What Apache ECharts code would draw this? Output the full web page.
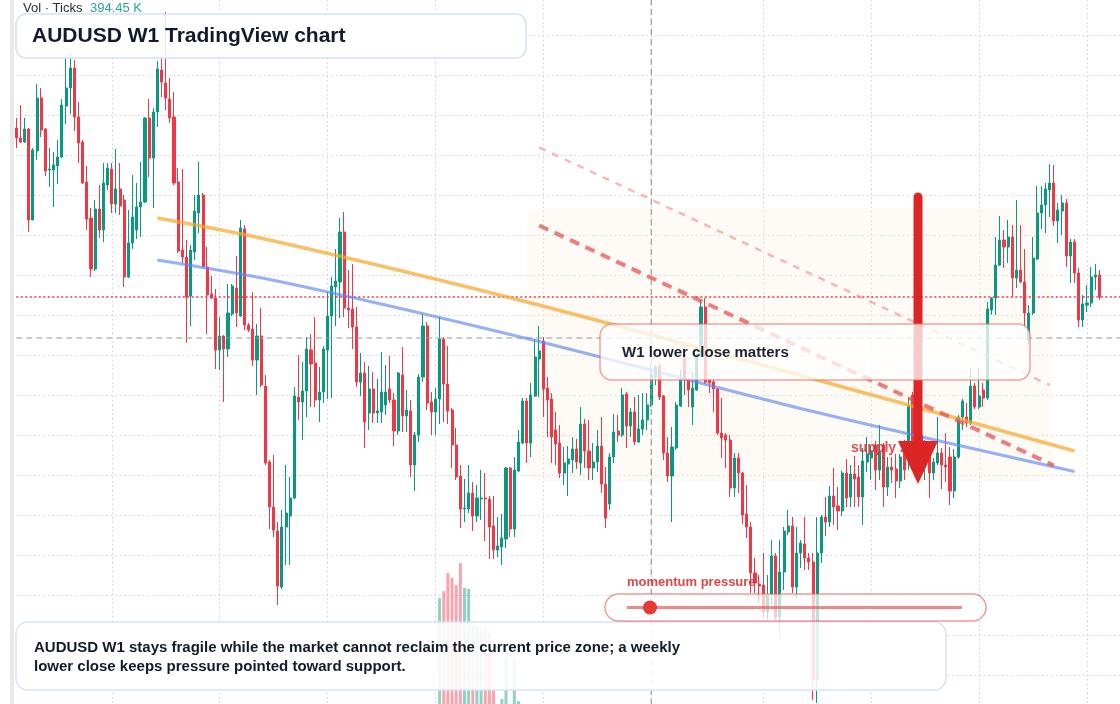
<!DOCTYPE html>
<html>
<head>
<meta charset="utf-8">
<title>AUDUSD W1</title>
<script src="https://cdn.jsdelivr.net/npm/echarts@6/dist/echarts.min.js"></script>
<style>
  html, body { margin: 0; padding: 0; background: #fff; width: 1120px; height: 704px; overflow: hidden; position: relative; }
  /* plot runs a few px past the window so the weekly grid lands where TradingView draws it */
  #chart { position: absolute; left: 0; top: -5px; width: 1125px; height: 720px; }
</style>
</head>
<body>
<div id="chart"></div>
<script>
// weekly bars, oldest first
const open = [
  0.7894,0.7874,0.7866,0.7892,0.7710,0.7848,0.7954,0.7892,0.7810,0.7810,
  0.7818,0.7836,0.7938,0.7974,0.8014,0.7916,0.7866,0.7786,0.7714,0.7612,
  0.7732,0.7690,0.7780,0.7812,0.7742,0.7772,0.7750,0.7596,0.7664,0.7690,
  0.7736,0.7746,0.7914,0.7834,0.7926,0.8010,0.7984,0.7952,0.7916,0.7786,
  0.7650,0.7636,0.7558,0.7646,0.7724,0.7760,0.7616,0.7562,0.7554,0.7450,
  0.7478,0.7452,0.7522,0.7574,0.7518,0.7692,0.7500,0.7492,0.7430,0.7478,
  0.7378,0.7226,0.7136,0.7088,0.6976,0.7096,0.7118,0.7154,0.7356,0.7346,
  0.7368,0.7450,0.7424,0.7350,0.7366,0.7450,0.7518,0.7576,0.7586,0.7686,
  0.7534,0.7532,0.7496,0.7386,0.7404,0.7324,0.7372,0.7324,0.7326,0.7340,
  0.7372,0.7350,0.7288,0.7400,0.7318,0.7328,0.7220,0.7280,0.7396,0.7498,
  0.7346,0.7326,0.7352,0.7472,0.7382,0.7330,0.7260,0.7198,0.7132,0.7132,
  0.7164,0.7118,0.7152,0.7154,0.7152,0.7098,0.7050,0.7056,0.7072,0.7214,
  0.7092,0.7208,0.7264,0.7348,0.7264,0.7358,0.7432,0.7468,0.7374,0.7352,
  0.7290,0.7264,0.7204,0.7222,0.7230,0.7252,0.7224,0.7302,0.7248,0.7214,
  0.7226,0.7258,0.7182,0.7142,0.7236,0.7288,0.7280,0.7362,0.7298,0.7326,
  0.7266,0.7292,0.7310,0.7340,0.7396,0.7418,0.7358,0.7244,0.7198,0.7254,
  0.7338,0.7440,0.7390,0.7336,0.7370,0.7438,0.7536,0.7390,0.7386,0.7372,
  0.7284,0.7280,0.7270,0.7174,0.7234,0.7204,0.7122,0.7096,0.7004,0.6982,
  0.6980,0.6926,0.6960,0.7038,0.6916,0.7006,0.7086,0.7098,0.6976,0.7044,
  0.7062,0.7034,0.7026,0.6790,0.7044,0.7116,0.7106,0.7158,0.7138,0.7128,
  0.7204,0.7156,0.7202,0.7196,0.7156,0.7226,0.7234,0.7260,0.7210,0.7260,
  0.7176,0.7216,0.7212,0.7188,0.7250,0.7230,0.7360,0.7250,0.7280,0.7220,
  0.7236,0.7204,0.7224,0.7244,0.7220,0.7236,0.7168,0.7236,0.7316,0.7316,
  0.7304,0.7378,0.7336,0.7370,0.7354,0.7530,0.7554,0.7620,0.7670,0.7656,
  0.7676,0.7594,0.7610,0.7586,0.7470,0.7524,0.7632,0.7724,0.7740,0.7770,
  0.7784,0.7708,0.7728,0.7744,0.7638,0.7666,0.7604,0.7510,0.7540,0.7544,
  0.7596,0.7600
];
const close = [
  0.7874,0.7866,0.7892,0.7710,0.7850,0.7954,0.7890,0.7808,0.7812,0.7820,
  0.7836,0.7940,0.7974,0.8014,0.7916,0.7864,0.7784,0.7712,0.7612,0.7732,
  0.7690,0.7784,0.7814,0.7742,0.7772,0.7738,0.7596,0.7664,0.7716,0.7736,
  0.7746,0.7914,0.7834,0.7926,0.8012,0.7986,0.7954,0.7914,0.7784,0.7648,
  0.7636,0.7556,0.7650,0.7728,0.7760,0.7616,0.7560,0.7554,0.7450,0.7478,
  0.7452,0.7524,0.7578,0.7524,0.7694,0.7500,0.7490,0.7430,0.7478,0.7380,
  0.7224,0.7136,0.7090,0.6978,0.7096,0.7124,0.7154,0.7358,0.7346,0.7368,
  0.7452,0.7422,0.7350,0.7366,0.7452,0.7518,0.7578,0.7588,0.7686,0.7534,
  0.7530,0.7496,0.7386,0.7404,0.7306,0.7372,0.7324,0.7328,0.7366,0.7366,
  0.7350,0.7288,0.7404,0.7318,0.7330,0.7220,0.7280,0.7396,0.7498,0.7344,
  0.7326,0.7352,0.7472,0.7382,0.7328,0.7260,0.7196,0.7132,0.7134,0.7164,
  0.7118,0.7154,0.7154,0.7152,0.7096,0.7050,0.7058,0.7074,0.7214,0.7092,
  0.7210,0.7266,0.7348,0.7264,0.7360,0.7436,0.7448,0.7372,0.7350,0.7276,
  0.7262,0.7204,0.7224,0.7232,0.7252,0.7226,0.7302,0.7248,0.7214,0.7226,
  0.7258,0.7182,0.7114,0.7236,0.7286,0.7280,0.7360,0.7298,0.7326,0.7266,
  0.7292,0.7310,0.7340,0.7400,0.7416,0.7356,0.7244,0.7198,0.7256,0.7340,
  0.7390,0.7390,0.7370,0.7374,0.7438,0.7536,0.7386,0.7384,0.7372,0.7284,
  0.7274,0.7270,0.7174,0.7234,0.7204,0.7120,0.7096,0.7004,0.6984,0.6978,
  0.6926,0.6960,0.7038,0.6916,0.7006,0.7088,0.7098,0.6976,0.7044,0.7064,
  0.7034,0.7026,0.6790,0.7044,0.7116,0.7106,0.7158,0.7136,0.7128,0.7204,
  0.7154,0.7202,0.7192,0.7156,0.7228,0.7242,0.7246,0.7210,0.7246,0.7176,
  0.7216,0.7210,0.7188,0.7236,0.7210,0.7338,0.7250,0.7310,0.7236,0.7260,
  0.7204,0.7226,0.7244,0.7220,0.7216,0.7168,0.7236,0.7316,0.7348,0.7304,
  0.7378,0.7336,0.7358,0.7354,0.7532,0.7554,0.7620,0.7670,0.7656,0.7676,
  0.7594,0.7610,0.7586,0.7524,0.7524,0.7634,0.7724,0.7740,0.7772,0.7784,
  0.7708,0.7730,0.7744,0.7638,0.7666,0.7604,0.7510,0.7542,0.7544,0.7596,
  0.7600,0.7556
];
const low = [
  0.7854,0.7864,0.7864,0.7686,0.7710,0.7830,0.7876,0.7798,0.7776,0.7736,
  0.7782,0.7834,0.7902,0.7922,0.7888,0.7824,0.7782,0.7690,0.7596,0.7608,
  0.7674,0.7666,0.7770,0.7724,0.7724,0.7720,0.7576,0.7594,0.7652,0.7672,
  0.7676,0.7744,0.7796,0.7734,0.7896,0.7956,0.7930,0.7904,0.7780,0.7644,
  0.7624,0.7464,0.7498,0.7630,0.7684,0.7614,0.7482,0.7552,0.7412,0.7410,
  0.7346,0.7436,0.7518,0.7496,0.7516,0.7490,0.7486,0.7418,0.7360,0.7376,
  0.7220,0.7092,0.7076,0.6940,0.6972,0.7020,0.7020,0.7152,0.7310,0.7270,
  0.7316,0.7336,0.7336,0.7306,0.7344,0.7352,0.7354,0.7498,0.7514,0.7516,
  0.7494,0.7452,0.7376,0.7358,0.7254,0.7290,0.7304,0.7304,0.7304,0.7320,
  0.7344,0.7258,0.7280,0.7286,0.7286,0.7196,0.7168,0.7266,0.7386,0.7330,
  0.7280,0.7280,0.7302,0.7306,0.7302,0.7214,0.7190,0.7094,0.7106,0.7124,
  0.7088,0.7106,0.7110,0.7068,0.7032,0.7032,0.7036,0.7020,0.7054,0.7076,
  0.7076,0.7206,0.7262,0.7224,0.7236,0.7356,0.7356,0.7316,0.7276,0.7224,
  0.7220,0.7194,0.7180,0.7158,0.7204,0.7212,0.7200,0.7214,0.7190,0.7190,
  0.7206,0.7164,0.7094,0.7130,0.7224,0.7266,0.7276,0.7254,0.7276,0.7260,
  0.7264,0.7280,0.7290,0.7336,0.7380,0.7350,0.7230,0.7186,0.7106,0.7250,
  0.7336,0.7360,0.7336,0.7300,0.7368,0.7436,0.7382,0.7364,0.7326,0.7280,
  0.7234,0.7214,0.7156,0.7156,0.7164,0.7102,0.7074,0.6964,0.6964,0.6944,
  0.6914,0.6910,0.6940,0.6910,0.6874,0.6970,0.7080,0.6964,0.6954,0.7014,
  0.7010,0.7010,0.6750,0.6744,0.7024,0.7078,0.7096,0.7100,0.7090,0.7118,
  0.7136,0.7136,0.7136,0.7136,0.7100,0.7206,0.7190,0.7170,0.7190,0.7136,
  0.7158,0.7184,0.7154,0.7174,0.7190,0.7210,0.7210,0.7220,0.7210,0.7190,
  0.7154,0.7190,0.7220,0.7172,0.7186,0.7140,0.7154,0.7232,0.7290,0.7296,
  0.7300,0.7332,0.7332,0.7336,0.7350,0.7520,0.7520,0.7618,0.7614,0.7624,
  0.7556,0.7574,0.7584,0.7496,0.7460,0.7520,0.7630,0.7692,0.7684,0.7716,
  0.7698,0.7664,0.7680,0.7616,0.7584,0.7584,0.7496,0.7496,0.7526,0.7536,
  0.7570,0.7550
];
const high = [
  0.7914,0.7940,0.7914,0.7894,0.7854,0.7982,0.7974,0.7894,0.7854,0.7846,
  0.7870,0.7952,0.8034,0.8044,0.8030,0.7946,0.7870,0.7818,0.7734,0.7750,
  0.7780,0.7824,0.7824,0.7824,0.7852,0.7824,0.7760,0.7730,0.7800,0.7784,
  0.7826,0.7916,0.7952,0.7934,0.8028,0.8034,0.8126,0.7994,0.7966,0.7814,
  0.7812,0.7670,0.7660,0.7760,0.7826,0.7764,0.7656,0.7598,0.7572,0.7516,
  0.7480,0.7582,0.7582,0.7638,0.7710,0.7700,0.7504,0.7566,0.7502,0.7534,
  0.7400,0.7230,0.7240,0.7106,0.7130,0.7220,0.7196,0.7376,0.7440,0.7426,
  0.7476,0.7482,0.7516,0.7416,0.7458,0.7566,0.7596,0.7652,0.7714,0.7726,
  0.7610,0.7622,0.7536,0.7444,0.7426,0.7418,0.7406,0.7392,0.7446,0.7420,
  0.7438,0.7364,0.7406,0.7456,0.7370,0.7350,0.7286,0.7402,0.7522,0.7506,
  0.7366,0.7374,0.7516,0.7476,0.7458,0.7334,0.7294,0.7220,0.7192,0.7220,
  0.7186,0.7180,0.7210,0.7204,0.7158,0.7158,0.7116,0.7122,0.7216,0.7216,
  0.7236,0.7290,0.7354,0.7354,0.7384,0.7472,0.7498,0.7476,0.7396,0.7364,
  0.7326,0.7300,0.7256,0.7258,0.7276,0.7272,0.7336,0.7312,0.7310,0.7264,
  0.7290,0.7316,0.7216,0.7244,0.7322,0.7320,0.7374,0.7366,0.7334,0.7356,
  0.7360,0.7364,0.7364,0.7420,0.7420,0.7424,0.7360,0.7276,0.7296,0.7346,
  0.7410,0.7444,0.7394,0.7406,0.7444,0.7550,0.7554,0.7392,0.7390,0.7374,
  0.7354,0.7284,0.7280,0.7244,0.7244,0.7206,0.7180,0.7106,0.7034,0.7000,
  0.7044,0.7000,0.7070,0.7044,0.7070,0.7096,0.7130,0.7116,0.7096,0.7070,
  0.7116,0.7044,0.7044,0.7116,0.7120,0.7156,0.7178,0.7214,0.7176,0.7208,
  0.7232,0.7220,0.7238,0.7220,0.7254,0.7276,0.7260,0.7268,0.7300,0.7264,
  0.7236,0.7236,0.7242,0.7242,0.7270,0.7356,0.7366,0.7330,0.7290,0.7270,
  0.7254,0.7234,0.7316,0.7254,0.7284,0.7256,0.7252,0.7320,0.7352,0.7344,
  0.7414,0.7384,0.7414,0.7384,0.7546,0.7556,0.7676,0.7718,0.7690,0.7710,
  0.7700,0.7750,0.7700,0.7652,0.7540,0.7676,0.7778,0.7778,0.7784,0.7822,
  0.7820,0.7744,0.7760,0.7752,0.7672,0.7672,0.7614,0.7560,0.7580,0.7616,
  0.7622,0.7610
];
// tick volume (K) only printed for this stretch of weeks
const volStart = 102;
const volume = [297, 316, 367, 353, 333, 394.45, 325, 322, 221, 216, 210, 216, 199, 39, 0, 14, 132, 0, 126, 8];

const gridWeeks = [23, 49, 75, 101, 127, 153, 180, 206, 232, 258];
const lastPrice = 0.7556;
const crossPrice = 0.7474;
const crossWeek = 153;
const orangeLine = [[34, 0.7714], [61, 0.7670], [124, 0.7544], [208, 0.7356], [255, 0.7248]];
const blueLine = [[34, 0.7630], [64, 0.7586], [124, 0.7471], [191, 0.7329], [255, 0.7207]];
const supplyLine = [[126, 0.7699], [250, 0.7219]];
const upperLine = [[126, 0.7855], [249, 0.7380]];

const UP = '#089981', DOWN = '#f23645';
const FONT = '"Liberation Sans", Arial, sans-serif';
const TOTAL = 268;

const weeks = [];
const t0 = Date.UTC(2021, 0, 4);
for (let i = 0; i < TOTAL; i++) {
  weeks.push(new Date(t0 + i * 7 * 864e5).toISOString().slice(0, 10));
}
const candles = open.map((o, i) => [o, close[i], low[i], high[i]]);
const volData = weeks.map(() => null);
volume.forEach((v, k) => {
  const i = volStart + k;
  volData[i] = {
    value: v,
    itemStyle: { color: close[i] >= open[i] ? 'rgba(8,153,129,0.45)' : 'rgba(242,54,69,0.45)' }
  };
});

const hidden = { show: false };
const chart = echarts.init(document.getElementById('chart'));

function line(data, color, width, type, smooth) {
  return {
    type: 'line', data: data, symbol: 'none', silent: true, z: 3,
    smooth: smooth || false,
    lineStyle: { color: color, width: width, type: type || 'solid' }
  };
}

chart.setOption({
  animation: false,
  backgroundColor: '#ffffff',
  grid: [
    { left: 16.3, right: 0.65, top: 0, bottom: 0 },
    { left: 16.3, right: 0.65, bottom: 11, height: 200 }
  ],
  xAxis: [
    {
      type: 'category', data: weeks, boundaryGap: false, gridIndex: 0,
      axisLine: hidden, axisTick: hidden, axisLabel: hidden,
      splitLine: {
        show: true,
        interval: (idx) => gridWeeks.includes(idx),
        lineStyle: { color: '#d0d0d0', width: 1, type: [1.5, 3] }
      }
    },
    { type: 'category', data: weeks, boundaryGap: false, gridIndex: 1, show: false }
  ],
  yAxis: [
    {
      type: 'value', min: 0.672, max: 0.816, interval: 0.008, gridIndex: 0,
      axisLine: hidden, axisTick: hidden, axisLabel: hidden,
      splitLine: { lineStyle: { color: '#d0d0d0', width: 1, type: [1.5, 3] } }
    },
    { type: 'value', min: 0, max: 560, gridIndex: 1, show: false, splitLine: hidden }
  ],
  series: [
    {
      type: 'bar', xAxisIndex: 1, yAxisIndex: 1, data: volData,
      barWidth: 3, silent: true, z: 2
    },
    {
      type: 'candlestick', data: candles, barWidth: 2.6, clip: false, z: 2,
      itemStyle: { color: UP, color0: DOWN, borderColor: UP, borderColor0: DOWN, borderWidth: 1 }
    },
    line([[0, lastPrice], [TOTAL - 1, lastPrice]], DOWN, 1.4, [2, 2.5]),
    line([[0, crossPrice], [TOTAL - 1, crossPrice]], '#9a9a9a', 1.2, [6, 4]),
    line([[crossWeek, 0.672], [crossWeek, 0.816]], '#9a9a9a', 1.2, [6, 4]),
    line(orangeLine, 'rgba(247,168,45,0.72)', 3.5, 'solid', 0.3),
    line(blueLine, 'rgba(95,135,242,0.65)', 3.2, 'solid', 0.3),
    line(upperLine, 'rgba(240,140,140,0.6)', 2.5, [7, 7]),
    line(supplyLine, 'rgba(232,82,82,0.75)', 4, [10, 7])
  ],
  // annotation layer in window pixels (group shifted by the 5px the plot is raised)
  graphic: { elements: [{ type: 'group', x: 0, y: 5, children: [
    { type: 'rect', z: 5, shape: { x: 10, y: -5, width: 4, height: 715 }, style: { fill: '#e9e9e9' } },
    { type: 'rect', z: 1, shape: { x: 527, y: 208, width: 525, height: 274, r: 16 },
      style: { fill: 'rgba(250,230,208,0.22)' } },

    { type: 'text', z: 60, style: { x: 23, y: 8, text: 'Vol · Ticks', font: '13px ' + FONT,
      fill: '#2a2e39', textVerticalAlign: 'middle' } },
    { type: 'text', z: 60, style: { x: 90, y: 8, text: '394.45 K', font: '13px ' + FONT,
      fill: '#26a69a', textVerticalAlign: 'middle' } },

    { type: 'rect', z: 50, shape: { x: 16, y: 14, width: 510, height: 44, r: 10 },
      style: { fill: 'rgba(255,255,255,0.84)', stroke: '#d4e2f6', lineWidth: 1.5 } },
    { type: 'text', z: 51, style: { x: 32, y: 36.5, text: 'AUDUSD W1 TradingView chart',
      font: 'bold 21px ' + FONT, fill: '#131a2b', textVerticalAlign: 'middle' } },

    { type: 'text', z: 39, style: { x: 851, y: 448, text: 'supply zone', font: 'bold 14px ' + FONT,
      fill: 'rgba(220,38,38,0.8)', textVerticalAlign: 'middle' } },
    { type: 'line', z: 40, shape: { x1: 918, y1: 197, x2: 918, y2: 446 },
      style: { stroke: '#dc2626', lineWidth: 9, lineCap: 'round' } },
    { type: 'polygon', z: 41, shape: { points: [[898, 441], [938, 441], [918, 484]] },
      style: { fill: '#dc2626' } },

    { type: 'rect', z: 50, shape: { x: 600, y: 324, width: 430, height: 56, r: 12 },
      style: { fill: 'rgba(255,255,255,0.76)', stroke: 'rgba(232,100,100,0.6)', lineWidth: 1.5 } },
    { type: 'text', z: 51, style: { x: 622, y: 353, text: 'W1 lower close matters',
      font: 'bold 15px ' + FONT, fill: '#1b2232', textVerticalAlign: 'middle' } },

    { type: 'text', z: 51, style: { x: 627, y: 582, text: 'momentum pressure',
      font: 'bold 13px ' + FONT, fill: 'rgba(220,38,38,0.85)', textVerticalAlign: 'middle' } },
    { type: 'rect', z: 50, shape: { x: 16, y: 622, width: 930, height: 68, r: 12 },
      style: { fill: 'rgba(255,255,255,0.88)', stroke: '#d6e3f8', lineWidth: 1.5 } },
    { type: 'text', z: 51, style: { x: 34, y: 648,
      text: 'AUDUSD W1 stays fragile while the market cannot reclaim the current price zone; a weekly',
      font: 'bold 15px ' + FONT, fill: '#131a2b', textVerticalAlign: 'middle' } },
    { type: 'text', z: 51, style: { x: 34, y: 667,
      text: 'lower close keeps pressure pointed toward support.',
      font: 'bold 15px ' + FONT, fill: '#131a2b', textVerticalAlign: 'middle' } },
    { type: 'rect', z: 52, shape: { x: 605, y: 594, width: 381, height: 27, r: 13.5 },
      style: { fill: 'rgba(255,255,255,0.72)', stroke: 'rgba(232,100,100,0.65)', lineWidth: 1.5 } },
    { type: 'line', z: 53, shape: { x1: 627, y1: 607.5, x2: 962, y2: 607.5 },
      style: { stroke: 'rgba(228,90,90,0.7)', lineWidth: 3 } },
    { type: 'circle', z: 54, shape: { cx: 650, cy: 607.5, r: 7 }, style: { fill: '#e53935' } }
  ] }] }
});
</script>
</body>
</html>
